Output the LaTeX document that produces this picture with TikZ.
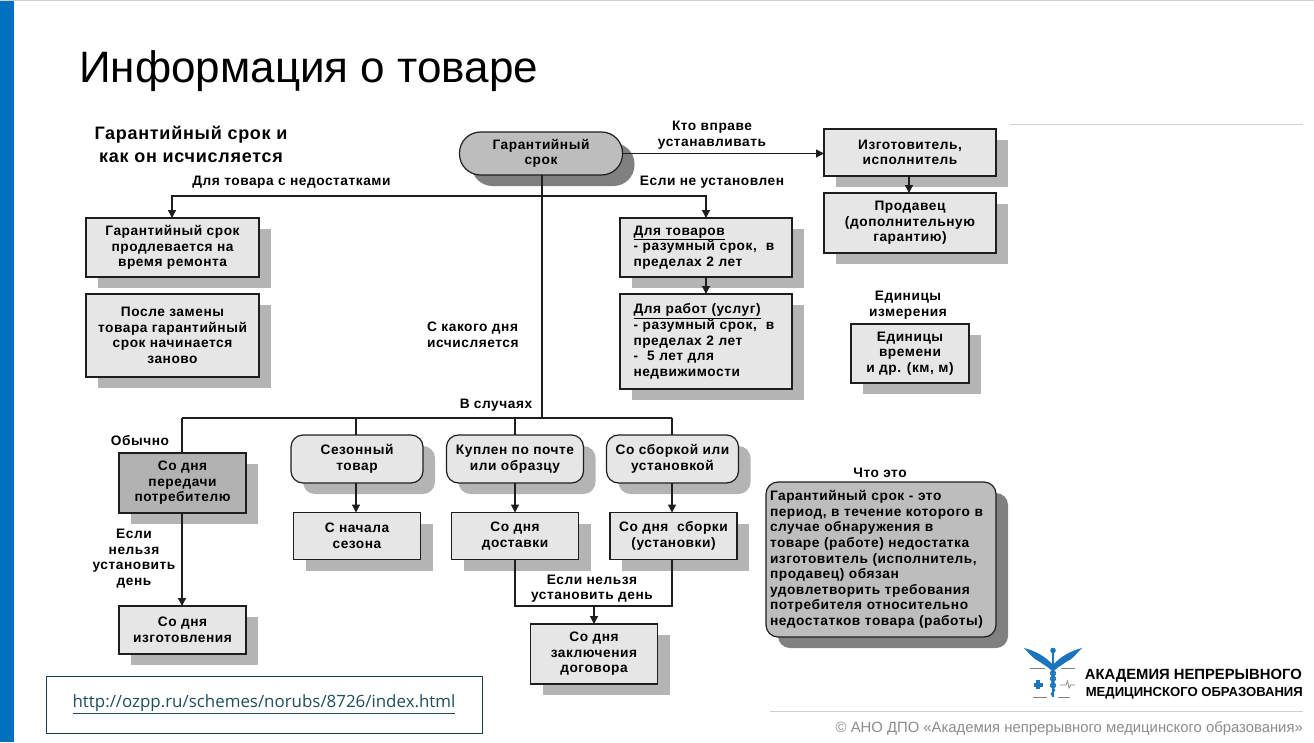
\documentclass[tikz,border=0pt]{standalone}
\usepackage{fontspec}
\setmainfont{Liberation Sans}
\newfontfamily\schemefont[LetterSpace=4,Ligatures=TeX]{Liberation Sans Bold}
\newfontfamily\linkfont{Open Sans}
\usetikzlibrary{arrows.meta,shadows}
\definecolor{barblue}{HTML}{0070C0}
\definecolor{boxgray}{HTML}{E6E6E6}
\definecolor{midgray}{HTML}{B2B2B2}
\definecolor{pillgray}{HTML}{BDBDBD}
\definecolor{softshadow}{HTML}{B4B4B4}
\definecolor{darkshadow}{HTML}{808080}
\definecolor{inkline}{HTML}{1E1E1E}
\definecolor{ruleline}{HTML}{CFCFCF}
\definecolor{linkblue}{HTML}{1F4E5F}
\definecolor{logoblue}{HTML}{1B75BC}
\tikzset{
  schemetext/.style={font=\schemefont\fontsize{13.7}{15.6}\selectfont,text=black,align=center,inner sep=0pt},
  basebox/.style={schemetext,draw=inkline,line width=1.2pt,inner sep=0pt,outer sep=0pt},
  softbox/.style={basebox,fill=boxgray,general shadow={fill=softshadow,shadow xshift=12pt,shadow yshift=-11pt}},
  keybox/.style={basebox,fill=midgray,general shadow={fill=softshadow,shadow xshift=12pt,shadow yshift=-11pt}},
  softround/.style={softbox,rounded corners=12pt},
  darkround/.style={basebox,fill=pillgray,rounded corners=12pt,general shadow={fill=darkshadow,shadow xshift=12pt,shadow yshift=-11pt}},
  pillbox/.style={basebox,fill=pillgray,rounded corners=21pt,general shadow={fill=darkshadow,shadow xshift=12pt,shadow yshift=-11pt}},
  caption/.style={schemetext},
  link/.style={draw=inkline,line width=1.3pt},
  arrowlink/.style={link,-{Triangle[length=8pt,width=8pt]}},
  rulethin/.style={draw=ruleline,line width=1pt},
}
\begin{document}
\begin{tikzpicture}[x=1pt,y=-1pt]
\useasboundingbox (0,0) rectangle (1314,742);
\fill[white] (0,0) rectangle (1314,742);
\fill[ruleline] (0,0) rectangle (1314,1.2);
\fill[barblue] (0,1) rectangle (13.5,742);
\draw[rulethin] (1010,124) -- (1303,124);
\draw[rulethin] (770,711) -- (1303,711);

\node[anchor=base west,inner sep=0pt,font=\fontsize{44}{50}\selectfont] (title) at (79,82) {Информация о товаре};

% boxes
\node[pillbox,minimum width=163pt,minimum height=43pt] (pill) at (541,153.5) {Гарантийный\\срок};
\node[softbox,minimum width=173pt,minimum height=59pt] (a1) at (172.5,247.5) {Гарантийный срок\\продлевается на\\время ремонта};
\node[softbox,minimum width=173pt,minimum height=83pt] (a2) at (172.5,335.5) {После замены\\товара гарантийный\\срок  начинается\\заново};
\node[softbox,minimum width=172pt,minimum height=59pt,text width=145pt,align=left] (b1) at (706,247.5) {\underline{Для товаров}\\- разумный срок,~ в\\пределах 2 лет};
\node[softbox,minimum width=172pt,minimum height=95pt,text width=145pt,align=left] (b2) at (706,341.5) {\underline{Для работ (услуг)}\\- разумный срок,~ в\\пределах 2 лет\\-~ 5 лет для\\недвижимости};
\node[softbox,minimum width=172pt,minimum height=47pt] (c1) at (910,152.5) {Изготовитель,\\исполнитель};
\node[softbox,minimum width=172pt,minimum height=60pt] (c2) at (910,223) {Продавец\\(дополнительную\\гарантию)};
\node[softbox,minimum width=118pt,minimum height=59pt] (d1) at (910,353.5) {Единицы\\времени\\и др. (км, м)};
\node[keybox,minimum width=127pt,minimum height=60pt] (e1) at (182.5,483) {Со дня\\передачи\\потребителю};
\node[softbox,minimum width=127pt,minimum height=48pt] (e2) at (182.5,630) {Со дня\\изготовления};
\node[softround,minimum width=132pt,minimum height=48pt] (f1) at (357,459) {Сезонный\\товар};
\node[softbox,minimum width=127pt,minimum height=47pt] (f2) at (357,536) {С начала\\сезона};
\node[softround,minimum width=137pt,minimum height=48pt] (g1) at (515,459) {Куплен по почте\\или образцу};
\node[softbox,minimum width=127pt,minimum height=47pt] (g2) at (515,536) {Со дня\\доставки};
\node[softround,minimum width=132pt,minimum height=48pt] (h1) at (672.5,459) {Со сборкой или\\установкой};
\node[softbox,minimum width=127pt,minimum height=47pt] (h2) at (673.5,536) {Со дня~ сборки\\(установки)};
\node[softbox,minimum width=127pt,minimum height=60pt] (i1) at (594,654) {Со дня\\заключения\\договора};
\node[darkround,minimum width=230pt,minimum height=155pt,text width=222pt,align=left] (j1) at (881,559.5) {Гарантийный срок - это\\период, в течение которого в\\случае обнаружения в\\товаре (работе) недостатка\\изготовитель (исполнитель,\\продавец) обязан\\удовлетворить требования\\потребителя относительно\\недостатков товара (работы)};

% captions
\node[caption,font=\schemefont\fontsize{18}{23}\selectfont] (cap0) at (191,144.5) {Гарантийный срок и\\как он исчисляется};
\node[caption] (cap1) at (291.5,182.5) {Для товара с недостатками};
\node[caption] (cap2) at (712,135) {Кто вправе\\устанавливать};
\node[caption] (cap3) at (712,182.5) {Если не установлен};
\node[caption] (cap4) at (908,305.5) {Единицы\\измерения};
\node[caption,align=left,anchor=west] (cap5) at (427,335) {С какого дня\\исчисляется};
\node[caption] (cap6) at (496,405.5) {В случаях};
\node[caption] (cap7) at (140,440.5) {Обычно};
\node[caption] (cap8) at (134,558.5) {Если\\нельзя\\установить\\день};
\node[caption] (cap9) at (592,588.5) {Если нельзя\\установить день};
\node[caption] (cap10) at (880,473) {Что это};

% junctions
\coordinate (busA) at (542,196);
\coordinate (busB) at (542,418);
\coordinate (busAL) at (172,196);
\coordinate (busAR) at (706,196);
\coordinate (busBL) at (182,418);
\coordinate (busBF) at (356,418);
\coordinate (busBG) at (515,418);
\coordinate (busBH) at (672,418);
\coordinate (joinG) at (515,606);
\coordinate (joinH) at (672,606);
\coordinate (joinI) at (594,606);

% connectors
\draw[link] (pill.south -| busA) -- (busB);
\draw[arrowlink] (busA) -- (busAL) -- (a1.north -| busAL);
\draw[arrowlink] (busA) -- (busAR) -- (b1.north -| busAR);
\draw[arrowlink] (pill.east) -- (pill.east -| c1.west);
\draw[arrowlink] (c1.south -| 909,0) -- (c2.north -| 909,0);
\draw[arrowlink] (b1.south) -- (b2.north);
\draw[link] (busBL) -- (busBH);
\draw[link] (busBL) -- (e1.north -| busBL);
\draw[link] (busBF) -- (f1.north -| busBF);
\draw[link] (busBG) -- (g1.north -| busBG);
\draw[link] (busBH) -- (h1.north -| busBH);
\draw[arrowlink] (e1.south -| busBL) -- (e2.north -| busBL);
\draw[arrowlink] (f1.south -| busBF) -- (f2.north -| busBF);
\draw[arrowlink] (g1.south -| busBG) -- (g2.north -| busBG);
\draw[arrowlink] (h1.south -| busBH) -- (h2.north -| busBH);
\draw[link] (g2.south -| joinG) -- (joinG) -- (joinH) -- (h2.south -| joinH);
\draw[arrowlink] (joinI) -- (i1.north);

% link box
\node[draw=linkblue!80!black,line width=.8pt,minimum width=436pt,minimum height=57pt,inner sep=0pt,text=linkblue,font=\linkfont\fontsize{16.9}{20}\selectfont] (url) at (264,704.5) {\underline{http://ozpp.ru/schemes/norubs/8726/index.html}};

% logo
\begin{scope}
\fill[logoblue] (1053,665) .. controls (1046,657) and (1036,651) .. (1024,648) .. controls (1030,654) and (1033,659) .. (1040,662) .. controls (1044,665) and (1048,667) .. (1051,670) -- cycle;
\fill[logoblue] (1053,665) .. controls (1060,657) and (1070,651) .. (1082,648) .. controls (1076,654) and (1073,659) .. (1066,662) .. controls (1062,665) and (1058,667) .. (1055,670) -- cycle;
\draw[logoblue,line width=1.6pt] (1053,650) -- (1053,697);
\fill[logoblue] (1053,650.5) circle (2.8pt);
\draw[logoblue,line width=1.6pt] (1053,664) .. controls (1061,668) and (1045,672) .. (1053,676) .. controls (1061,680) and (1045,684) .. (1053,688) .. controls (1058,691) and (1048,693) .. (1053,696);
\draw[logoblue,line width=1.6pt] (1053,664) .. controls (1045,668) and (1061,672) .. (1053,676) .. controls (1045,680) and (1061,684) .. (1053,688);
\fill[logoblue] (1036,680) rectangle (1040,689);
\fill[logoblue] (1033.5,682.5) rectangle (1042.5,686.5);
\draw[gray,line width=.7pt] (1060,685) -- (1066,685) -- (1067.5,681) -- (1069,688) -- (1070.5,685) -- (1075,685);
\draw[gray,line width=.8pt] (1030,668.5) -- (1045,668.5) (1061,668.5) -- (1075,668.5) (1033,697) -- (1047,697) (1058,697) -- (1070,697);
\end{scope}
\node[anchor=base east,inner sep=0pt,font=\bfseries\fontsize{14.8}{16}\selectfont] (brand1) at (1302,679) {АКАДЕМИЯ НЕПРЕРЫВНОГО};
\node[anchor=base east,inner sep=0pt,font=\bfseries\fontsize{13.1}{16}\selectfont] (brand2) at (1303,696) {МЕДИЦИНСКОГО ОБРАЗОВАНИЯ};
\node[anchor=base east,inner sep=0pt,text=black!45,font=\fontsize{14.85}{18}\selectfont] (copy) at (1303,732) {© АНО ДПО «Академия непрерывного медицинского образования»};
\end{tikzpicture}
\end{document}
